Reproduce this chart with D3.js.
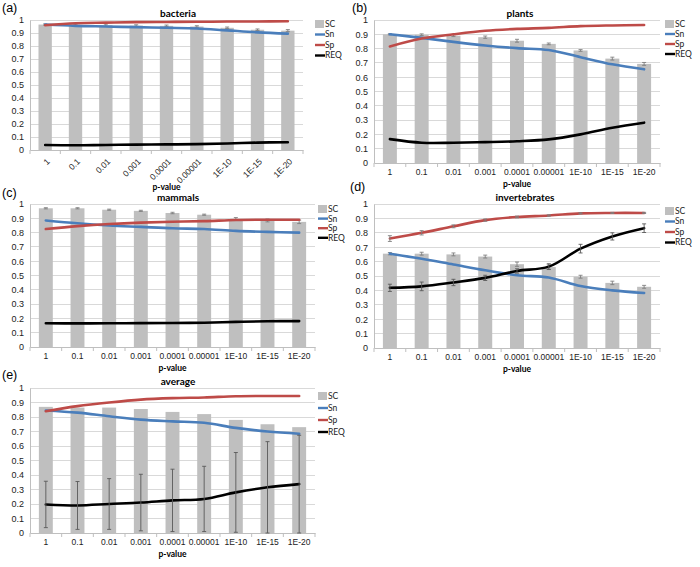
<!DOCTYPE html>
<html><head><meta charset="utf-8">
<script src="https://cdn.jsdelivr.net/npm/d3@7"></script>
<style>body{margin:0;background:#fff}svg{display:block;font-family:Lato,"Liberation Sans",sans-serif}</style>
</head><body><svg id="c" width="700" height="567"></svg>
<script>
const categories = ["1","0.1","0.01","0.001","0.0001","0.00001","1E-10","1E-15","1E-20"];
const yTickValues = [0,0.1,0.2,0.3,0.4,0.5,0.6,0.7,0.8,0.9,1];
const seriesNames = ["SC","Sn","Sp","REQ"];

// (a) bacteria
const bacteriaSC  = [0.965,0.962,0.960,0.957,0.955,0.950,0.940,0.925,0.918];
const bacteriaSn  = [0.965,0.955,0.950,0.945,0.940,0.935,0.920,0.905,0.895];
const bacteriaSp  = [0.960,0.975,0.980,0.984,0.985,0.986,0.988,0.989,0.990];
const bacteriaREQ = [0.038,0.036,0.039,0.041,0.043,0.045,0.050,0.057,0.060];
const bacteriaSCerr = [0.005,0.005,0.008,0.006,0.006,0.006,0.006,0.006,0.008];

// (b) plants
const plantsSC  = [0.900,0.897,0.890,0.880,0.855,0.833,0.787,0.730,0.693];
const plantsSn  = [0.900,0.875,0.847,0.822,0.803,0.790,0.740,0.690,0.655];
const plantsSp  = [0.815,0.870,0.900,0.925,0.938,0.945,0.957,0.962,0.965];
const plantsREQ = [0.167,0.142,0.142,0.146,0.152,0.165,0.200,0.247,0.282];
const plantsSCerr = [0.004,0.006,0.006,0.008,0.010,0.006,0.006,0.010,0.010];

// (c) mammals
const mammalsSC  = [0.970,0.970,0.960,0.952,0.937,0.925,0.895,0.885,0.875];
const mammalsSn  = [0.885,0.865,0.850,0.840,0.830,0.825,0.812,0.805,0.800];
const mammalsSp  = [0.825,0.845,0.860,0.870,0.876,0.880,0.888,0.890,0.890];
const mammalsREQ = [0.166,0.165,0.166,0.167,0.168,0.170,0.176,0.180,0.181];
const mammalsSCerr = [0.004,0.004,0.004,0.004,0.005,0.004,0.010,0.010,0.012];

// (d) invertebrates
const invertSC  = [0.655,0.655,0.650,0.635,0.582,0.562,0.495,0.452,0.425];
const invertSn  = [0.655,0.620,0.580,0.540,0.505,0.490,0.430,0.400,0.382];
const invertSp  = [0.760,0.800,0.845,0.888,0.910,0.920,0.935,0.938,0.938];
const invertREQ = [0.418,0.428,0.455,0.487,0.535,0.565,0.690,0.775,0.832];
const invertSCerr  = [0.008,0.010,0.010,0.010,0.015,0.015,0.010,0.012,0.010];
const invertSpErr  = [0.020,0.015,0.010,0.008,0.006,0.005,0.004,0.004,0.004];
const invertREQerr = [0.025,0.030,0.022,0.018,0.015,0.020,0.030,0.025,0.030];

// (e) average
const averageSC  = [0.870,0.865,0.865,0.855,0.835,0.820,0.780,0.750,0.730];
const averageSn  = [0.845,0.830,0.805,0.782,0.770,0.760,0.725,0.700,0.685];
const averageSp  = [0.840,0.875,0.900,0.920,0.930,0.935,0.943,0.945,0.945];
const averageREQ = [0.197,0.190,0.200,0.210,0.225,0.235,0.280,0.315,0.337];
const averageREQerr = [0.160,0.165,0.175,0.195,0.215,0.225,0.275,0.315,0.337];

const panels = [
  {label:"(a)", lx:2, ly:12, title:"bacteria", tx:178, ty:17, x0:30, x1:303, yTop:20, yBot:150, rotate:true,
   legX:315, legY:24, legStep:10.5, SC:bacteriaSC, Sn:bacteriaSn, Sp:bacteriaSp, REQ:bacteriaREQ,
   errs:{SC:bacteriaSCerr}, pvY:190},
  {label:"(b)", lx:352, ly:12, title:"plants", tx:520, ty:17, x0:374, x1:660, yTop:20, yBot:163, rotate:false,
   legX:665, legY:24, legStep:10, SC:plantsSC, Sn:plantsSn, Sp:plantsSp, REQ:plantsREQ,
   errs:{SC:plantsSCerr}, pvY:187},
  {label:"(c)", lx:2, ly:197, title:"mammals", tx:178, ty:201, x0:30, x1:315, yTop:204, yBot:347, rotate:false,
   legX:318, legY:209, legStep:9.6, SC:mammalsSC, Sn:mammalsSn, Sp:mammalsSp, REQ:mammalsREQ,
   errs:{SC:mammalsSCerr}, pvY:371},
  {label:"(d)", lx:350, ly:191, title:"invertebrates", tx:525, ty:201, x0:374, x1:660, yTop:204, yBot:348, rotate:false,
   legX:665, legY:211, legStep:10.5, SC:invertSC, Sn:invertSn, Sp:invertSp, REQ:invertREQ,
   errs:{SC:invertSCerr, Sp:invertSpErr, REQ:invertREQerr}, pvY:372},
  {label:"(e)", lx:2, ly:379, title:"average", tx:178, ty:385, x0:30, x1:315, yTop:388, yBot:533, rotate:false,
   legX:318, legY:396, legStep:12, SC:averageSC, Sn:averageSn, Sp:averageSp, REQ:averageREQ,
   errs:{REQ:averageREQerr}, pvY:557}
];

const colors = {SC:"#bfbfbf", Sn:"#4a7ebb", Sp:"#be4b48", REQ:"#000000"};
const svg = d3.select("#c");

panels.forEach(p => {
  const g = svg.append("g");
  const x = d3.scaleBand().domain(categories).range([p.x0, p.x1]);
  const y = d3.scaleLinear().domain([0,1]).range([p.yBot, p.yTop]);
  const cx = c => x(c) + x.bandwidth()/2;

  // gridlines
  g.append("g").selectAll("line").data(yTickValues.slice(1)).join("line")
    .attr("x1", p.x0).attr("x2", p.x1).attr("y1", d=>y(d)).attr("y2", d=>y(d))
    .attr("stroke", "#d9d9d9").attr("stroke-width", 1).attr("shape-rendering","crispEdges");

  // y axis
  const ya = d3.axisLeft(y).tickValues(yTickValues).tickFormat(d3.format("~g")).tickSize(0).tickPadding(6);
  const yg = g.append("g").attr("transform", `translate(${p.x0},0)`).call(ya);
  yg.select(".domain").attr("stroke","#bfbfbf");
  yg.selectAll("text").attr("font-size", 9).attr("fill","#222");

  // bars
  const bw = x.bandwidth()*0.44;
  g.append("g").selectAll("rect").data(categories).join("rect")
    .attr("x", c => cx(c) - bw/2).attr("width", bw)
    .attr("y", (c,i) => y(p.SC[i])).attr("height", (c,i) => y(0) - y(p.SC[i]))
    .attr("fill", colors.SC);

  // x axis
  const xa = d3.axisBottom(x).tickSize(0).tickPadding(p.rotate ? 4 : 6);
  const xg = g.append("g").attr("transform", `translate(0,${p.yBot})`).call(xa);
  xg.select(".domain").attr("stroke","#bfbfbf");
  xg.selectAll("text").attr("font-size", 8.5).attr("fill","#222");
  if (p.rotate) {
    xg.selectAll("text").attr("text-anchor","end").attr("dy","0.35em")
      .attr("x", 0).attr("y", 0)
      .attr("transform", "translate(3,10) rotate(-45)");
  }
  // category boundary ticks
  g.append("g").selectAll("line").data(d3.range(categories.length+1)).join("line")
    .attr("x1", i => p.x0 + i*x.step()).attr("x2", i => p.x0 + i*x.step())
    .attr("y1", p.yBot).attr("y2", p.yBot+4).attr("stroke","#bfbfbf");

  // error bars function
  const drawErr = (vals, errs, color) => {
    const eg = g.append("g").attr("stroke", color).attr("stroke-width", 0.9);
    categories.forEach((c,i) => {
      const e = errs[i]; const xc = cx(c);
      const lo = Math.max(0, vals[i]-e), hi = vals[i]+e;
      eg.append("line").attr("x1",xc).attr("x2",xc).attr("y1",y(lo)).attr("y2",y(hi));
      eg.append("line").attr("x1",xc-2).attr("x2",xc+2).attr("y1",y(hi)).attr("y2",y(hi));
      eg.append("line").attr("x1",xc-2).attr("x2",xc+2).attr("y1",y(lo)).attr("y2",y(lo));
    });
  };
  if (p.errs.SC) drawErr(p.SC, p.errs.SC, "#7f7f7f");

  // lines
  const line = d3.line().x((d,i)=>cx(categories[i])).y(d=>y(d)).curve(d3.curveCatmullRom.alpha(0.5));
  ["Sn","Sp","REQ"].forEach(s => {
    g.append("path").attr("d", line(p[s])).attr("fill","none")
      .attr("stroke", colors[s]).attr("stroke-width", 2.6).attr("stroke-linecap","round");
  });
  if (p.errs.Sp) drawErr(p.Sp, p.errs.Sp, "#7f7f7f");
  if (p.errs.REQ) drawErr(p.REQ, p.errs.REQ, "#595959");

  // title & labels
  g.append("text").attr("x", p.tx).attr("y", p.ty).attr("text-anchor","middle")
    .attr("font-size", 10).attr("font-weight","bold").text(p.title);
  g.append("text").attr("x", p.lx).attr("y", p.ly).attr("font-size", 12.5).attr("font-family","'Liberation Sans',Arial,sans-serif").text(p.label);
  g.append("text").attr("x", (p.x0+p.x1)/2).attr("y", p.pvY).attr("text-anchor","middle")
    .attr("font-size", 8.5).attr("font-weight","bold").text("p-value");

  // legend
  const lg = g.append("g").attr("transform", `translate(${p.legX},${p.legY})`);
  seriesNames.forEach((s,i) => {
    const yy = i*p.legStep;
    if (s === "SC") lg.append("rect").attr("x",0).attr("y",yy-4).attr("width",9).attr("height",8).attr("fill",colors.SC);
    else lg.append("line").attr("x1",0).attr("x2",10).attr("y1",yy).attr("y2",yy).attr("stroke",colors[s]).attr("stroke-width",2.4);
    lg.append("text").attr("x", 10).attr("y", yy).attr("dy","0.35em").attr("font-size", 8.5).attr("fill","#222").text(s);
  });
});
</script></body></html>
